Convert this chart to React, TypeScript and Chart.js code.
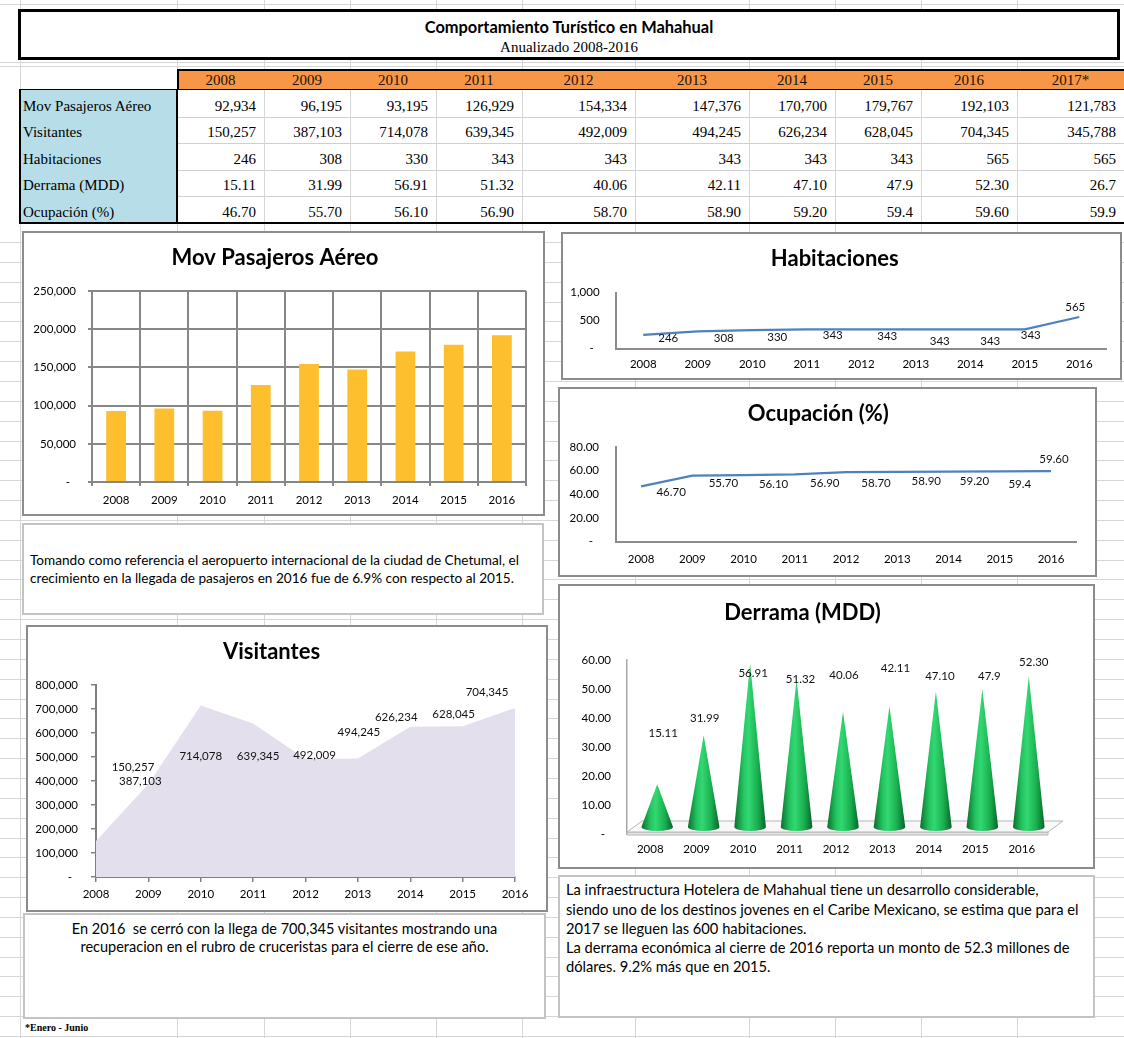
import React, { useEffect, useRef } from 'react';
import { Chart, registerables } from 'chart.js';

Chart.register(...registerables);
Chart.defaults.font.family = 'Lato, "Open Sans", sans-serif';
Chart.defaults.color = '#000';

// ---------- data ----------
const years = ['2008', '2009', '2010', '2011', '2012', '2013', '2014', '2015', '2016'];
const tableYears = ['2008', '2009', '2010', '2011', '2012', '2013', '2014', '2015', '2016', '2017*'];
const rowLabels = ['Mov Pasajeros Aéreo', 'Visitantes', 'Habitaciones', 'Derrama (MDD)', 'Ocupación (%)'];

const pasajeros = [92934, 96195, 93195, 126929, 154334, 147376, 170700, 179767, 192103, 121783];
const visitantes = [150257, 387103, 714078, 639345, 492009, 494245, 626234, 628045, 704345, 345788];
const habitaciones = [246, 308, 330, 343, 343, 343, 343, 343, 565, 565];
const derrama = [15.11, 31.99, 56.91, 51.32, 40.06, 42.11, 47.1, 47.9, 52.3, 26.7];
const derramaDecimals = [2, 2, 2, 2, 2, 2, 2, 1, 2, 1];
const ocupacion = [46.7, 55.7, 56.1, 56.9, 58.7, 58.9, 59.2, 59.4, 59.6, 59.9];
const ocupacionDecimals = [2, 2, 2, 2, 2, 2, 2, 1, 2, 1];

const N = years.length;

// axis ranges
const pasajerosMax = 250000, pasajerosStep = 50000;
const visitantesMax = 800000, visitantesStep = 100000;
const habitacionesMax = 1000, habitacionesStep = 500;
const ocupacionMax = 80, ocupacionStep = 20;
const derramaMax = 60, derramaStep = 10;

// ---------- formatting ----------
const fmtInt = (v: number) => v.toLocaleString('en-US');
const axisInt = (v: any) => (Number(v) === 0 ? '-  ' : fmtInt(Number(v)));
const axisDec = (v: any) => (Number(v) === 0 ? '-  ' : Number(v).toFixed(2));

const tableRows: string[][] = [
  pasajeros.map(fmtInt),
  visitantes.map(fmtInt),
  habitaciones.map((v) => String(v)),
  derrama.map((v, i) => v.toFixed(derramaDecimals[i])),
  ocupacion.map((v, i) => v.toFixed(ocupacionDecimals[i])),
];

// ---------- styles (label offsets relative to points) ----------
const visitLabelOffsets = [[37, -74], [-8, -3], [0, 51], [5, 33], [9, -4], [1, -26], [-14, -9], [-9, -12], [-28, -16]];
const habLabelOffsets = [[25, 4], [26, 7], [25, 7], [26, 6], [26, 7], [24, 12], [20, 12], [6, 6], [-4, -10]];
const ocupLabelOffsets = [[30, 6], [31, 8], [30, 9], [30, 9], [30, 11], [29, 9], [26, 10], [20, 13], [3, -12]];
const derLabelOffsets = [[13, -57], [8, -23], [10, 4], [11, -6], [8, -43], [13, -44], [11, -21], [14, -19], [12, -20]];

const SANS = 'Lato, "Open Sans", sans-serif';
const SERIF = '"Liberation Serif", "Times New Roman", serif';
const tickFont = { family: SANS, size: 11.5 };

function labelPlugin(id: string, texts: string[], offsets: number[][]) {
  return {
    id,
    afterDatasetsDraw(chart: any) {
      const meta = chart.getDatasetMeta(0);
      const ctx = chart.ctx;
      ctx.save();
      ctx.font = '11.5px Lato, "Open Sans", sans-serif';
      ctx.fillStyle = '#111';
      ctx.textAlign = 'center';
      ctx.textBaseline = 'middle';
      meta.data.forEach((el: any, i: number) => {
        const o = offsets[i] || [0, 0];
        ctx.fillText(texts[i], el.x + o[0], el.y + o[1]);
      });
      ctx.restore();
    },
  };
}

const conePlugin = {
  id: 'cones',
  beforeDatasetsDraw(chart: any) {
    const { ctx, chartArea, scales } = chart;
    const y0 = scales.y.getPixelForValue(0);
    const l = chartArea.left;
    const r = chartArea.right + 3;
    ctx.save();
    ctx.lineWidth = 1;
    ctx.strokeStyle = '#b5b5b5';
    ctx.beginPath();
    ctx.moveTo(l, y0 - 2);
    ctx.lineTo(r, y0 - 2);
    ctx.lineTo(r, y0 + 1);
    ctx.lineTo(l, y0 + 1);
    ctx.closePath();
    ctx.fillStyle = '#e4e4e4';
    ctx.fill();
    ctx.stroke();
    ctx.beginPath();
    ctx.moveTo(l, y0 - 2);
    ctx.lineTo(l + 15, y0 - 13);
    ctx.lineTo(r + 15, y0 - 13);
    ctx.lineTo(r, y0 - 2);
    ctx.closePath();
    ctx.fillStyle = '#f8f8f8';
    ctx.fill();
    ctx.stroke();
    ctx.restore();
  },
  afterDatasetsDraw(chart: any) {
    const meta = chart.getDatasetMeta(0);
    const ctx = chart.ctx;
    const y0 = chart.scales.y.getPixelForValue(0);
    ctx.save();
    meta.data.forEach((el: any) => {
      const cx = el.x + 7;
      const hw = el.width / 2;
      const baseY = y0 - 7;
      const tipY = el.y - 6;
      const g = ctx.createLinearGradient(cx - hw, 0, cx + hw, 0);
      g.addColorStop(0, '#0b6e2c');
      g.addColorStop(0.28, '#22c45f');
      g.addColorStop(0.45, '#33d873');
      g.addColorStop(0.75, '#19ad4e');
      g.addColorStop(1, '#08642b');
      ctx.beginPath();
      ctx.moveTo(cx, tipY);
      ctx.lineTo(cx + hw, baseY);
      ctx.ellipse(cx, baseY, hw, 4, 0, 0, Math.PI);
      ctx.closePath();
      ctx.fillStyle = g;
      ctx.fill();
    });
    ctx.restore();
  },
};

const titleOpts = (text: string, top: number, bottom: number) => ({
  display: true,
  text,
  color: '#000',
  font: { family: SANS, size: 22, weight: 'bold' },
  padding: { top, bottom },
});

const basePlugins = (title: any) => ({ legend: { display: false }, tooltip: { enabled: false }, title });

// ---------- chart configs ----------
const pasajerosConfig = () => ({
  type: 'bar',
  data: {
    labels: years,
    datasets: [{ data: pasajeros.slice(0, N), backgroundColor: '#FDBF2D', categoryPercentage: 1, barPercentage: 0.41 }],
  },
  options: {
    animation: false,
    responsive: false,
    layout: { padding: { left: 0, right: 17, top: 0, bottom: 6 } },
    plugins: basePlugins(titleOpts('Mov Pasajeros Aéreo', 12, 19.6)),
    scales: {
      x: {
        grid: { color: '#878787', lineWidth: 2, tickLength: 4, offset: true },
        border: { color: '#878787', width: 2 },
        ticks: { font: tickFont, color: '#000', padding: 7, maxRotation: 0, autoSkip: false },
        afterFit: (s: any) => { s.height = 26; },
      },
      y: {
        min: 0,
        max: pasajerosMax,
        grid: { color: '#878787', lineWidth: 2, tickLength: 4 },
        border: { color: '#878787', width: 2 },
        ticks: { stepSize: pasajerosStep, callback: axisInt, font: tickFont, color: '#000', padding: 12 },
        afterFit: (s: any) => { s.width = 68; },
      },
    },
  },
});

const visitantesConfig = () => ({
  type: 'line',
  data: {
    labels: years,
    datasets: [{ data: visitantes.slice(0, N), fill: 'origin', backgroundColor: '#E4DFEC', borderWidth: 0, pointRadius: 0, tension: 0 }],
  },
  options: {
    animation: false,
    responsive: false,
    layout: { padding: { left: 0, right: 31, top: 0, bottom: 6 } },
    plugins: basePlugins(titleOpts('Visitantes', 12, 19.6)),
    scales: {
      x: {
        offset: false,
        grid: { drawOnChartArea: false, color: '#808080', lineWidth: 1.5, tickLength: 5 },
        border: { color: '#808080', width: 2 },
        ticks: { font: tickFont, color: '#000', padding: 5, maxRotation: 0, autoSkip: false },
        afterFit: (s: any) => { s.height = 27; },
      },
      y: {
        min: 0,
        max: visitantesMax,
        grid: { drawOnChartArea: false, color: '#808080', lineWidth: 1.5, tickLength: 5 },
        border: { color: '#808080', width: 2 },
        ticks: { stepSize: visitantesStep, callback: axisInt, font: tickFont, color: '#000', padding: 13 },
        afterFit: (s: any) => { s.width = 68; },
      },
    },
  },
  plugins: [labelPlugin('visLabels', visitantes.slice(0, N).map(fmtInt), visitLabelOffsets)],
});

const lineConfig = (
  title: string,
  values: number[],
  texts: string[],
  offsets: number[][],
  max: number,
  step: number,
  tickCb: any,
  pad: any,
  yWidth: number,
  yPad: number,
  xHeight: number,
  xPad: number,
  titlePad: number[],
) => ({
  type: 'line',
  data: {
    labels: years,
    datasets: [{ data: values, borderColor: '#4F81BD', borderWidth: 2.25, pointRadius: 0, fill: false, tension: 0 }],
  },
  options: {
    animation: false,
    responsive: false,
    layout: { padding: pad },
    plugins: basePlugins(titleOpts(title, titlePad[0], titlePad[1])),
    scales: {
      x: {
        offset: true,
        grid: { display: false, drawTicks: false },
        border: { color: '#8c8c8c', width: 2 },
        ticks: { font: tickFont, color: '#000', padding: xPad, maxRotation: 0, autoSkip: false },
        afterFit: (s: any) => { s.height = xHeight; },
      },
      y: {
        min: 0,
        max,
        grid: { display: false, drawTicks: false },
        border: { color: '#8c8c8c', width: 2 },
        ticks: { stepSize: step, callback: tickCb, font: tickFont, color: '#000', padding: yPad },
        afterFit: (s: any) => { s.width = yWidth; },
      },
    },
  },
  plugins: [labelPlugin('lineLabels', texts, offsets)],
});

const habitacionesConfig = () =>
  lineConfig(
    'Habitaciones',
    habitaciones.slice(0, N),
    habitaciones.slice(0, N).map((v) => String(v)),
    habLabelOffsets,
    habitacionesMax,
    habitacionesStep,
    axisInt,
    { left: 0, right: 13.5, top: 0, bottom: 4.5 },
    53,
    16.4,
    25,
    9,
    [11.5, 20.8],
  );

const ocupacionConfig = () =>
  lineConfig(
    'Ocupación (%)',
    ocupacion.slice(0, N),
    ocupacion.slice(0, N).map((v, i) => v.toFixed(ocupacionDecimals[i])),
    ocupLabelOffsets,
    ocupacionMax,
    ocupacionStep,
    axisDec,
    { left: 0, right: 18.4, top: 0, bottom: 6 },
    55.5,
    16.5,
    27.5,
    11,
    [11.5, 20.1],
  );

const derramaConfig = () => ({
  type: 'bar',
  data: {
    labels: years,
    datasets: [{ data: derrama.slice(0, N), backgroundColor: 'rgba(0,0,0,0)', borderWidth: 0, categoryPercentage: 1, barPercentage: 0.68 }],
  },
  options: {
    animation: false,
    responsive: false,
    layout: { padding: { left: 0, right: 48, top: 0, bottom: 6 } },
    plugins: basePlugins(titleOpts('Derrama (MDD)', 13.5, 34.1)),
    scales: {
      x: {
        grid: { display: false, drawTicks: false },
        border: { display: false },
        ticks: { font: tickFont, color: '#000', padding: 8.5, maxRotation: 0, autoSkip: false },
        afterFit: (s: any) => { s.height = 27; },
      },
      y: {
        min: 0,
        max: derramaMax,
        grid: { display: false, drawTicks: false },
        border: { color: '#a6a6a6', width: 1.5 },
        ticks: { stepSize: derramaStep, callback: axisDec, font: tickFont, color: '#000', padding: 16 },
        afterFit: (s: any) => { s.width = 67; },
      },
    },
  },
  plugins: [
    conePlugin,
    labelPlugin('derLabels', derrama.slice(0, N).map((v, i) => v.toFixed(derramaDecimals[i])), derLabelOffsets),
  ],
});

// ---------- components ----------
type Box = { left: number; top: number; width: number; height: number };

function ChartPanel({ box, build }: { box: Box; build: () => any }) {
  const ref = useRef<HTMLCanvasElement>(null);
  useEffect(() => {
    const chart = new Chart(ref.current as HTMLCanvasElement, build());
    return () => chart.destroy();
  }, []);
  const w = box.width - 4;
  const h = box.height - 4;
  return (
    <div
      style={{
        position: 'absolute',
        left: box.left,
        top: box.top,
        width: box.width,
        height: box.height,
        boxSizing: 'border-box',
        border: '2px solid #8c8c8c',
        background: '#fff',
      }}
    >
      <canvas ref={ref} width={w} height={h} style={{ display: 'block', width: w, height: h }} />
    </div>
  );
}

const colLines = [20, 177, 264, 350, 436, 522, 635, 749, 835, 921, 1017];
const cellEdges = [177, 264, 350, 436, 522, 635, 749, 835, 921, 1017, 1124];

function SheetGrid() {
  const rows: number[] = [4, 62, 66];
  for (let y = 242; y < 1038; y += 19.85) rows.push(Math.round(y));
  return (
    <>
      {colLines.map((x) => (
        <div key={'c' + x} style={{ position: 'absolute', left: x, top: 0, width: 1, height: 1038, background: '#d6d6d6' }} />
      ))}
      {rows.map((y) => (
        <div key={'r' + y} style={{ position: 'absolute', left: 0, top: y, width: 1124, height: 1, background: '#d6d6d6' }} />
      ))}
    </>
  );
}

function DataTable() {
  const rowTop = 90;
  const rowH = 26.6;
  const textH = 20;
  return (
    <>
      {/* header band */}
      <div
        style={{
          position: 'absolute',
          left: 177,
          top: 69,
          width: 947,
          height: 22,
          boxSizing: 'border-box',
          background: '#F79646',
          borderTop: '2px solid #000',
          borderLeft: '2px solid #000',
          borderBottom: '1px solid #000',
        }}
      />
      {tableYears.map((y, i) => (
        <div
          key={y}
          style={{
            position: 'absolute',
            left: cellEdges[i],
            top: 81.7 - textH / 2,
            width: cellEdges[i + 1] - cellEdges[i],
            height: textH,
            lineHeight: textH + 'px',
            textAlign: 'center',
            font: `15px ${SERIF}`,
            color: '#1a1208',
          }}
        >
          {y}
        </div>
      ))}
      {/* body */}
      <div style={{ position: 'absolute', left: 20, top: rowTop, width: 1104, height: rowH * 5, background: '#fff' }} />
      <div style={{ position: 'absolute', left: 20, top: rowTop, width: 157, height: rowH * 5, background: '#B7DEE8' }} />
      {[1, 2, 3, 4].map((k) => (
        <div key={'sep' + k} style={{ position: 'absolute', left: 177, top: Math.round(rowTop + rowH * k), width: 947, height: 1, background: '#d0d0d0' }} />
      ))}
      {cellEdges.slice(1, -1).map((x) => (
        <div key={'vs' + x} style={{ position: 'absolute', left: x, top: rowTop, width: 1, height: rowH * 5, background: '#d6d6d6' }} />
      ))}
      <div
        style={{
          position: 'absolute',
          left: 19,
          top: rowTop - 1,
          width: 1110,
          height: rowH * 5 + 2,
          boxSizing: 'border-box',
          border: '2px solid #000',
          borderTopWidth: 1,
        }}
      />
      <div style={{ position: 'absolute', left: 176, top: rowTop - 1, width: 2, height: rowH * 5 + 1, background: '#000' }} />
      {rowLabels.map((lab, r) => (
        <div
          key={lab}
          style={{
            position: 'absolute',
            left: 23,
            top: rowTop + rowH * r + 17.5 - textH / 2,
            height: textH,
            lineHeight: textH + 'px',
            font: `15px ${SERIF}`,
            color: '#000',
            whiteSpace: 'nowrap',
          }}
        >
          {lab}
        </div>
      ))}
      {tableRows.map((vals, r) =>
        vals.map((v, i) => (
          <div
            key={r + '-' + i}
            style={{
              position: 'absolute',
              left: cellEdges[i],
              top: rowTop + rowH * r + 17.5 - textH / 2,
              width: cellEdges[i + 1] - cellEdges[i] - 8,
              height: textH,
              lineHeight: textH + 'px',
              textAlign: 'right',
              font: `15px ${SERIF}`,
              color: '#000',
              whiteSpace: 'nowrap',
            }}
          >
            {v}
          </div>
        )),
      )}
    </>
  );
}

function TextBox({ box, children, style }: { box: Box; children: any; style?: any }) {
  return (
    <div
      style={{
        position: 'absolute',
        left: box.left,
        top: box.top,
        width: box.width,
        height: box.height,
        boxSizing: 'border-box',
        border: '2px solid #c4c4c4',
        background: '#fff',
        fontFamily: SANS,
        color: '#000',
        whiteSpace: 'nowrap',
        ...style,
      }}
    >
      {children}
    </div>
  );
}

export default function App() {
  return (
    <div
      style={{
        position: 'absolute',
        left: 0,
        top: 0,
        width: 1124,
        height: 1038,
        overflow: 'hidden',
        background: '#fff',
      }}
    >
      <SheetGrid />
      {/* title box */}
      <div
        style={{
          position: 'absolute',
          left: 18,
          top: 9,
          width: 1102,
          height: 51,
          boxSizing: 'border-box',
          border: '3px solid #000',
          background: '#fff',
          textAlign: 'center',
        }}
      >
        <div style={{ position: 'absolute', left: 0, right: 0, top: 5, height: 20, lineHeight: '20px', font: `bold 16.4px ${SANS}`, color: '#000' }}>
          Comportamiento Turístico en Mahahual
        </div>
        <div style={{ position: 'absolute', left: 0, right: 0, top: 26.5, height: 18, lineHeight: '18px', font: `15px ${SERIF}`, color: '#000' }}>
          Anualizado 2008-2016
        </div>
      </div>
      <DataTable />

      <ChartPanel box={{ left: 22, top: 231, width: 523, height: 285 }} build={pasajerosConfig} />
      <TextBox box={{ left: 22, top: 523, width: 522, height: 92 }} style={{ fontSize: 13.6, lineHeight: '18px', padding: '26px 6px 0 6px' }}>
        Tomando como referencia el aeropuerto internacional de la ciudad de Chetumal, el
        <br />
        crecimiento en la llegada de pasajeros en 2016 fue de 6.9% con respecto al 2015.
      </TextBox>

      <ChartPanel box={{ left: 26, top: 625, width: 522, height: 287 }} build={visitantesConfig} />
      <TextBox box={{ left: 23, top: 913, width: 523, height: 106 }} style={{ fontSize: 14.5, lineHeight: '18.5px', padding: '4.75px 2px 0 2px', textAlign: 'center' }}>
        En 2016&nbsp; se cerró con la llega de 700,345 visitantes mostrando una
        <br />
        recuperacion en el rubro de cruceristas para el cierre de ese año.
      </TextBox>
      <div style={{ position: 'absolute', left: 25, top: 1022, height: 12, lineHeight: '12px', font: `bold 10px ${SERIF}`, color: '#000' }}>*Enero - Junio</div>

      <ChartPanel box={{ left: 561, top: 232, width: 561, height: 148 }} build={habitacionesConfig} />
      <ChartPanel box={{ left: 558, top: 387, width: 539, height: 190 }} build={ocupacionConfig} />
      <ChartPanel box={{ left: 558, top: 584, width: 537, height: 285 }} build={derramaConfig} />
      <TextBox box={{ left: 558, top: 875, width: 537, height: 143 }} style={{ fontSize: 14.7, lineHeight: '19.2px', padding: '3.4px 6px 0 6px' }}>
        La infraestructura Hotelera de Mahahual tiene un desarrollo considerable,
        <br />
        siendo uno de los destinos jovenes en el Caribe Mexicano, se estima que para el
        <br />
        2017 se lleguen las 600 habitaciones.
        <br />
        La derrama económica al cierre de 2016 reporta un monto de 52.3 millones de
        <br />
        dólares. 9.2% más que en 2015.
      </TextBox>
    </div>
  );
}
